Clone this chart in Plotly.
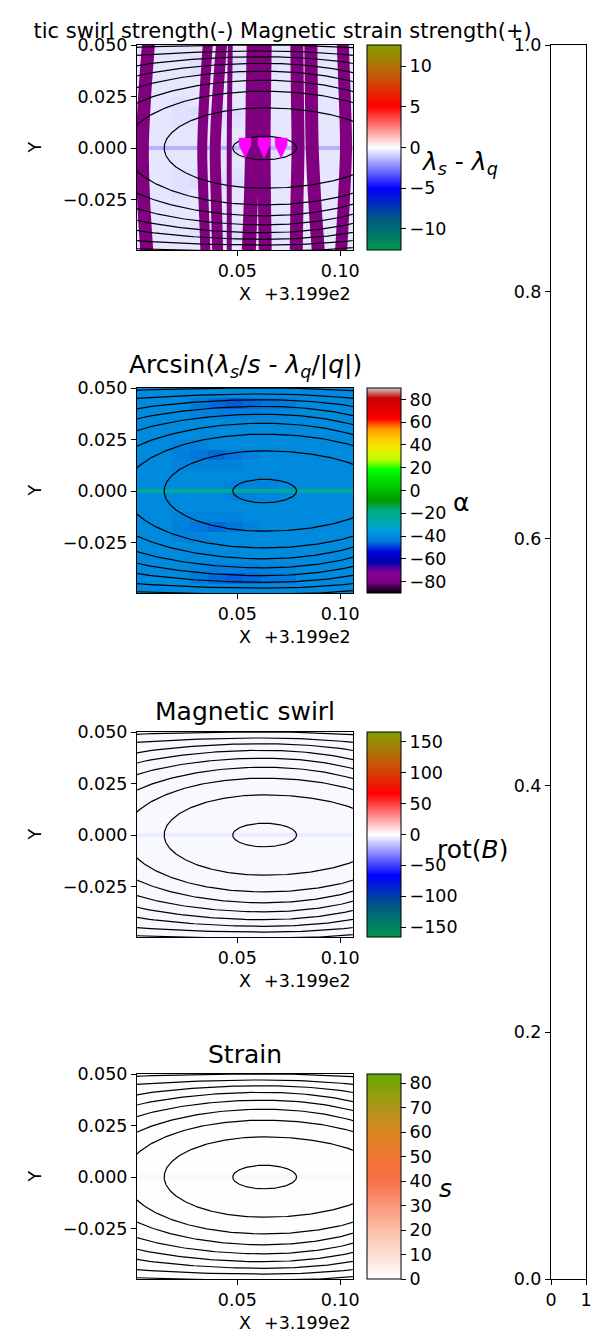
import numpy as np
import plotly.graph_objects as go

W, H = 593, 1338

# ---------------- data ----------------
x_range = [0.0013, 0.1062]          # X offset from 3.199e2
y_range = [-0.0495, 0.0500]
x_ticks = [0.05, 0.10]
x_tick_text = ["0.05", "0.10"]
y_ticks = [-0.025, 0.0, 0.025, 0.05]
y_tick_text = ["\u22120.025", "0.000", "0.025", "0.050"]

cell_x = [0.0056, 0.0142, 0.0228, 0.0314, 0.0400, 0.0486, 0.0572,
          0.0658, 0.0744, 0.0830, 0.0916, 0.1002, 0.1088]
cell_y = [-0.0475, -0.0425, -0.0375, -0.0325, -0.0275, -0.0225, -0.0175,
          -0.0125, -0.0075, -0.0025, 0.0025, 0.0075, 0.0125, 0.0175,
          0.0225, 0.0275, 0.0325, 0.0375, 0.0425, 0.0475]

# lambda_s - lambda_q (rows bottom -> top)
lam_diff = [
    [-0.5, -0.5, -0.5, -0.5, -0.5, -0.5, -0.5, -0.5, -0.5, -0.5, -0.5, -0.5, -0.5],
    [-0.5, -0.5, -0.5, -0.6, -0.7, -0.7, -0.7, -0.6, -0.6, -0.5, -0.5, -0.5, -0.5],
    [-0.5, -0.5, -0.5, -0.6, -0.6, -0.6, -0.6, -0.6, -0.5, -0.5, -0.5, -0.5, -0.5],
    [-0.5, -0.5, -0.5, -0.5, -0.5, -0.5, -0.5, -0.5, -0.5, -0.5, -0.5, -0.5, -0.5],
    [-0.5, -0.5, -0.5, -0.5, -0.5, -0.5, -0.5, -0.5, -0.5, -0.5, -0.5, -0.5, -0.5],
    [-0.5, -0.5, -0.6, -0.5, -0.5, -0.5, -0.5, -0.5, -0.5, -0.5, -0.5, -0.5, -0.5],
    [-0.5, -0.5, -0.6, -0.7, -0.7, -0.7, -0.6, -0.5, -0.5, -0.5, -0.5, -0.5, -0.5],
    [-0.5, -0.5, -0.6, -0.6, -0.6, -0.6, -0.5, -0.5, -0.5, -0.5, -0.5, -0.5, -0.5],
    [-0.5, -0.5, -0.5, -0.5, -0.5, -0.5, -0.5, -0.5, -0.5, -0.5, -0.5, -0.5, -0.5],
    [-0.5, -0.5, -0.5, -0.5, -0.5, -0.6, -0.6, -0.6, -0.5, -0.5, -0.5, -0.5, -0.5],
    [-0.5, -0.5, -0.5, -0.5, -0.5, -0.6, -0.6, -0.6, -0.5, -0.5, -0.5, -0.5, -0.5],
    [-0.5, -0.5, -0.5, -0.5, -0.5, -0.5, -0.5, -0.5, -0.5, -0.5, -0.5, -0.5, -0.5],
    [-0.5, -0.5, -0.6, -0.6, -0.6, -0.6, -0.5, -0.5, -0.5, -0.5, -0.5, -0.5, -0.5],
    [-0.5, -0.5, -0.6, -0.7, -0.7, -0.7, -0.6, -0.5, -0.5, -0.5, -0.5, -0.5, -0.5],
    [-0.5, -0.5, -0.6, -0.5, -0.5, -0.5, -0.5, -0.5, -0.5, -0.5, -0.5, -0.5, -0.5],
    [-0.5, -0.5, -0.5, -0.5, -0.5, -0.5, -0.5, -0.5, -0.5, -0.5, -0.5, -0.5, -0.5],
    [-0.5, -0.5, -0.5, -0.5, -0.5, -0.5, -0.5, -0.5, -0.5, -0.5, -0.5, -0.5, -0.5],
    [-0.5, -0.5, -0.5, -0.6, -0.6, -0.6, -0.6, -0.6, -0.5, -0.5, -0.5, -0.5, -0.5],
    [-0.5, -0.5, -0.5, -0.6, -0.7, -0.7, -0.7, -0.6, -0.6, -0.5, -0.5, -0.5, -0.5],
    [-0.5, -0.5, -0.5, -0.5, -0.5, -0.5, -0.5, -0.5, -0.5, -0.5, -0.5, -0.5, -0.5],
]
lam_diff_zero_row = [-1.5, -1.5, -1.5, -1.5, -1.5, -1.5, -1.5, -1.5, -1.5, -1.5, -1.5, -1.5, -1.5]

# alpha (degrees), rows bottom -> top
alpha = [
    [-40, -40, -40, -40, -40, -40, -40, -40, -40, -40, -40, -40, -40],
    [-40, -40, -40, -44, -46, -47, -46, -45, -44, -40, -40, -40, -40],
    [-40, -40, -40, -42, -43, -43, -43, -42, -41, -40, -40, -40, -40],
    [-40, -40, -40, -40, -40, -40, -40, -40, -40, -40, -40, -40, -40],
    [-40, -40, -40, -40, -40, -40, -40, -40, -40, -40, -40, -40, -40],
    [-40, -40, -42, -42, -40, -40, -40, -40, -40, -40, -40, -40, -40],
    [-40, -40, -43, -45, -46, -45, -42, -40, -40, -40, -40, -40, -40],
    [-40, -40, -42, -42, -42, -42, -40, -40, -40, -40, -40, -40, -40],
    [-40, -40, -40, -40, -40, -40, -40, -40, -40, -40, -40, -40, -40],
    [-40, -40, -40, -40, -40, -42, -42, -42, -40, -40, -40, -40, -40],
    [-40, -40, -40, -40, -40, -42, -42, -42, -40, -40, -40, -40, -40],
    [-40, -40, -40, -40, -40, -40, -40, -40, -40, -40, -40, -40, -40],
    [-40, -40, -42, -42, -42, -42, -40, -40, -40, -40, -40, -40, -40],
    [-40, -40, -43, -45, -46, -45, -42, -40, -40, -40, -40, -40, -40],
    [-40, -40, -42, -42, -40, -40, -40, -40, -40, -40, -40, -40, -40],
    [-40, -40, -40, -40, -40, -40, -40, -40, -40, -40, -40, -40, -40],
    [-40, -40, -40, -40, -40, -40, -40, -40, -40, -40, -40, -40, -40],
    [-40, -40, -40, -42, -43, -43, -43, -42, -41, -40, -40, -40, -40],
    [-40, -40, -40, -44, -46, -47, -46, -45, -44, -40, -40, -40, -40],
    [-40, -40, -40, -40, -40, -40, -40, -40, -40, -40, -40, -40, -40],
]
alpha_zero_row = [-22, -22, -22, -22, -22, -22, -22, -22, -22, -22, -22, -22, -22]

rot_b_background = -1.8
rot_b_zero_row = [-5, -5, -5, -5, -5, -5, -5, -5, -5, -5, -5, -5, -5]
strain_background = 0.3
strain_zero_row = [2.5, 2.5, 2.5, 2.5, 2.5, 2.5, 2.5, 2.5, 2.5, 2.5, 2.5, 2.5, 2.5]

# contour lines (flux surfaces)
contour_center_x = 0.063
contour_half_height = [0.0057, 0.0195, 0.0276, 0.0329, 0.0373, 0.0411, 0.0443, 0.0471, 0.0500]
contour_half_width_left = [0.0152, 0.0485, 0.0676, 0.0827, 0.1008, 0.119, 0.145, 0.209, 0.30]
contour_half_width_right = [0.0158, 0.058, 0.072, 0.078, 0.086, 0.096, 0.116, 0.146, 0.19]

# streamlines (panel 1): x at top edge, upper middle, centre, lower middle, bottom edge
stream_x_top = [0.0070, 0.0358, 0.0425, 0.0466, 0.0580, 0.0636, 0.0789, 0.0857, 0.1012]
stream_x_upper = [0.0050, 0.0340, 0.0405, 0.0463, 0.0575, 0.0632, 0.0792, 0.0860, 0.1022]
stream_x_mid = [0.0039, 0.0330, 0.0393, 0.0461, 0.0572, 0.0630, 0.0795, 0.0864, 0.1028]
stream_x_lower = [0.0045, 0.0336, 0.0398, 0.0461, 0.0566, 0.0632, 0.0790, 0.0876, 0.1018]
stream_x_bot = [0.0062, 0.0346, 0.0405, 0.0461, 0.0555, 0.0636, 0.0786, 0.0895, 0.1003]
stream_line_px = [13, 10, 11, 5, 14, 13, 13, 13, 12]

# quiver arrows (pointing in -Y), centre positions
arrow_x = [0.0538, 0.0630, 0.0713]
arrow_y = [0.0, 0.0, 0.0]

# ---------------- styles ----------------
FONT = "DejaVu Sans"
TICK = dict(family=FONT, size=17.5, color="black")

cs_div = [[0.0, "rgb(0,150,80)"], [0.15, "rgb(0,90,130)"], [0.3, "rgb(0,0,255)"],
          [0.5, "rgb(255,255,255)"], [0.7, "rgb(255,0,0)"], [0.85, "rgb(195,90,10)"],
          [1.0, "rgb(130,160,0)"]]
nipy = [(0.0, 0.0, 0.0), (0.4667, 0.0, 0.5333), (0.5333, 0.0, 0.6), (0.0, 0.0, 0.6667),
        (0.0, 0.0, 0.8667), (0.0, 0.4667, 0.8667), (0.0, 0.6, 0.8667), (0.0, 0.6667, 0.6667),
        (0.0, 0.6667, 0.5333), (0.0, 0.6, 0.0), (0.0, 0.7333, 0.0), (0.0, 0.8667, 0.0),
        (0.0, 1.0, 0.0), (0.7333, 1.0, 0.0), (0.9333, 0.9333, 0.0), (1.0, 0.8, 0.0),
        (1.0, 0.6, 0.0), (1.0, 0.0, 0.0), (0.8667, 0.0, 0.0), (0.8, 0.0, 0.0), (0.8, 0.8, 0.8)]
cs_nipy = [[i / 20, "rgb(%d,%d,%d)" % tuple(round(255 * c) for c in col)] for i, col in enumerate(nipy)]
cs_strain = [[0.0, "rgb(255,255,255)"], [0.24, "rgb(250,190,165)"], [0.48, "rgb(250,110,75)"],
             [0.6, "rgb(240,120,50)"], [0.72, "rgb(215,135,35)"], [0.84, "rgb(175,150,25)"],
             [1.0, "rgb(100,170,0)"]]

# panel pixel boxes (top, bottom)
panels = [(45, 250), (388, 593), (732, 937), (1074, 1279)]
PX_L, PX_R = 137, 353
DATA_PER_PX = (x_range[1] - x_range[0]) / (PX_R - PX_L)
# arrow glyph outline in pixels (relative to arrow centre, +y up)
ARROW_SHAPE_PX = [(-6, 10), (6, 10), (6, 3), (0, -10), (-6, 3), (-6, 10)]


def fx(p):
    return p / W


def fy(p):
    return 1 - p / H


fig = go.Figure()

zero_dy = 0.002

# heatmaps
fig.add_trace(go.Heatmap(z=lam_diff, x=cell_x, y=cell_y, coloraxis="coloraxis", xaxis="x", yaxis="y"))
fig.add_trace(go.Heatmap(z=[lam_diff_zero_row], x=cell_x, y0=0.0, dy=zero_dy, coloraxis="coloraxis",
                         xaxis="x", yaxis="y"))
fig.add_trace(go.Heatmap(z=alpha, x=cell_x, y=cell_y, coloraxis="coloraxis2", xaxis="x2", yaxis="y2"))
fig.add_trace(go.Heatmap(z=[alpha_zero_row], x=cell_x, y0=0.0, dy=zero_dy, coloraxis="coloraxis2",
                         xaxis="x2", yaxis="y2"))
fig.add_trace(go.Heatmap(z=[[rot_b_background]], x0=0.054, dx=0.2, y0=0.0, dy=0.2,
                         coloraxis="coloraxis3", xaxis="x3", yaxis="y3"))
fig.add_trace(go.Heatmap(z=[rot_b_zero_row], x=cell_x, y0=0.0, dy=zero_dy, coloraxis="coloraxis3",
                         xaxis="x3", yaxis="y3"))
fig.add_trace(go.Heatmap(z=[[strain_background]], x0=0.054, dx=0.2, y0=0.0, dy=0.2,
                         coloraxis="coloraxis4", xaxis="x4", yaxis="y4"))
fig.add_trace(go.Heatmap(z=[strain_zero_row], x=cell_x, y0=0.0, dy=zero_dy, coloraxis="coloraxis4",
                         xaxis="x4", yaxis="y4"))

# streamlines in panel 1
for xt, xu, xm, xl, xb, lw in zip(stream_x_top, stream_x_upper, stream_x_mid, stream_x_lower,
                                  stream_x_bot, stream_line_px):
    fig.add_trace(go.Scatter(x=[xb, xl, xm, xu, xt], y=[-0.052, -0.025, 0.0, 0.025, 0.052],
                             mode="lines",
                             line=dict(color="#800080", width=lw, shape="spline"),
                             xaxis="x", yaxis="y", hoverinfo="skip"))

# contour lines on all four panels
t = np.linspace(-np.pi / 2, 1.5 * np.pi, 400)
cx, cy = [], []
for b, al, ar in zip(contour_half_height, contour_half_width_left, contour_half_width_right):
    a = np.where(np.cos(t) >= 0, ar, al)
    cx += list(contour_center_x + a * np.cos(t)) + [None]
    cy += list(b * np.sin(t)) + [None]
for k in range(4):
    suffix = "" if k == 0 else str(k + 1)
    fig.add_trace(go.Scatter(x=cx, y=cy, mode="lines", line=dict(color="black", width=1.2),
                             xaxis="x" + suffix, yaxis="y" + suffix, hoverinfo="skip",
                             connectgaps=False))

# quiver arrows as filled glyphs
for ax_, ay_ in zip(arrow_x, arrow_y):
    fig.add_trace(go.Scatter(x=[ax_ + px * DATA_PER_PX for px, _ in ARROW_SHAPE_PX],
                             y=[ay_ + py * DATA_PER_PX for _, py in ARROW_SHAPE_PX],
                             mode="lines", fill="toself", fillcolor="#ff00ff",
                             line=dict(color="#ff00ff", width=0.5),
                             xaxis="x", yaxis="y", hoverinfo="skip"))

axis_common = dict(showline=True, linecolor="black", linewidth=1, mirror=True, ticks="outside",
                   ticklen=5, tickwidth=1, tickcolor="black", showgrid=False, zeroline=False,
                   tickfont=TICK, automargin=False)

layout = dict(width=W, height=H, margin=dict(l=0, r=0, t=0, b=0, autoexpand=False),
              showlegend=False, plot_bgcolor="white", paper_bgcolor="white")

cbar_specs = [
    (cs_div, -12.6, 12.6, [-10, -5, 0, 5, 10], ["\u221210", "\u22125", "0", "5", "10"]),
    (cs_nipy, -90, 90, [-80, -60, -40, -20, 0, 20, 40, 60, 80],
     ["\u221280", "\u221260", "\u221240", "\u221220", "0", "20", "40", "60", "80"]),
    (cs_div, -166, 166, [-150, -100, -50, 0, 50, 100, 150],
     ["\u2212150", "\u2212100", "\u221250", "0", "50", "100", "150"]),
    (cs_strain, 0, 83.8, [0, 10, 20, 30, 40, 50, 60, 70, 80],
     ["0", "10", "20", "30", "40", "50", "60", "70", "80"]),
]

for k, (top, bot) in enumerate(panels):
    suffix = "" if k == 0 else str(k + 1)
    layout["xaxis" + suffix] = dict(axis_common, domain=[fx(PX_L), fx(PX_R)], range=x_range,
                                    tickvals=x_ticks, ticktext=x_tick_text, anchor="y" + suffix)
    layout["yaxis" + suffix] = dict(axis_common, domain=[fy(bot), fy(top)], range=y_range,
                                    tickvals=y_ticks, ticktext=y_tick_text, anchor="x" + suffix)
    cs, cmin, cmax, tv, tt = cbar_specs[k]
    layout["coloraxis" + suffix] = dict(
        colorscale=cs, cmin=cmin, cmax=cmax,
        colorbar=dict(x=fx(367), xanchor="left", xpad=0, y=fy((top + bot) / 2), yanchor="middle",
                      ypad=0, len=(bot - top) / H, lenmode="fraction", thickness=34,
                      thicknessmode="pixels", outlinewidth=1, outlinecolor="black",
                      ticks="outside", ticklen=5, tickwidth=1, tickcolor="black",
                      tickvals=tv, ticktext=tt, tickfont=TICK))

# the empty right-hand axes
layout["xaxis5"] = dict(axis_common, domain=[fx(551), fx(586)], range=[0, 1], tickvals=[0, 1],
                        ticktext=["0", "1"], anchor="y5")
layout["yaxis5"] = dict(axis_common, domain=[fy(1279), fy(45)], range=[0, 1],
                        tickvals=[0, 0.2, 0.4, 0.6, 0.8, 1.0],
                        ticktext=["0.0", "0.2", "0.4", "0.6", "0.8", "1.0"], anchor="x5")
fig.add_trace(go.Scatter(x=[None], y=[None], xaxis="x5", yaxis="y5", mode="markers"))

ann = []


def text(s, x, y, size, **kw):
    d = dict(text=s, x=fx(x), y=fy(y), xref="paper", yref="paper", showarrow=False,
             font=dict(family=FONT, size=size, color="black"), xanchor="center", yanchor="middle")
    d.update(kw)
    ann.append(d)


# the reference picture is cropped on its left edge, so the start of the title is not seen
text('<span style="color:white">Magne</span>tic swirl strength(-) Magnetic strain strength(+)',
     247, 31, 21)
text("Arcsin(<i>λ</i><sub><i>s</i></sub>/<i>s</i> - <i>λ</i><sub><i>q</i></sub>/|<i>q</i>|)", 245, 366, 25)
text("Magnetic swirl", 245, 711, 25)
text("Strain", 245, 1054, 25)

for top, bot in panels:
    text("Y", 34, (top + bot) / 2, 17.5, textangle=-90)
    text("X", 245, bot + 44, 17.5)
    text("+3.199e2", 353, bot + 44, 17.5, xanchor="right")

text("<i>λ</i><sub><i>s</i></sub> - <i>λ</i><sub><i>q</i></sub>", 459, 163, 25)
text("α", 461, 503, 25)
text("rot(<i>B</i>)", 473, 849, 25)
text("<i>s</i>", 445, 1188, 25)

layout["annotations"] = ann
fig.update_layout(**layout)
fig.write_html("out.html")
